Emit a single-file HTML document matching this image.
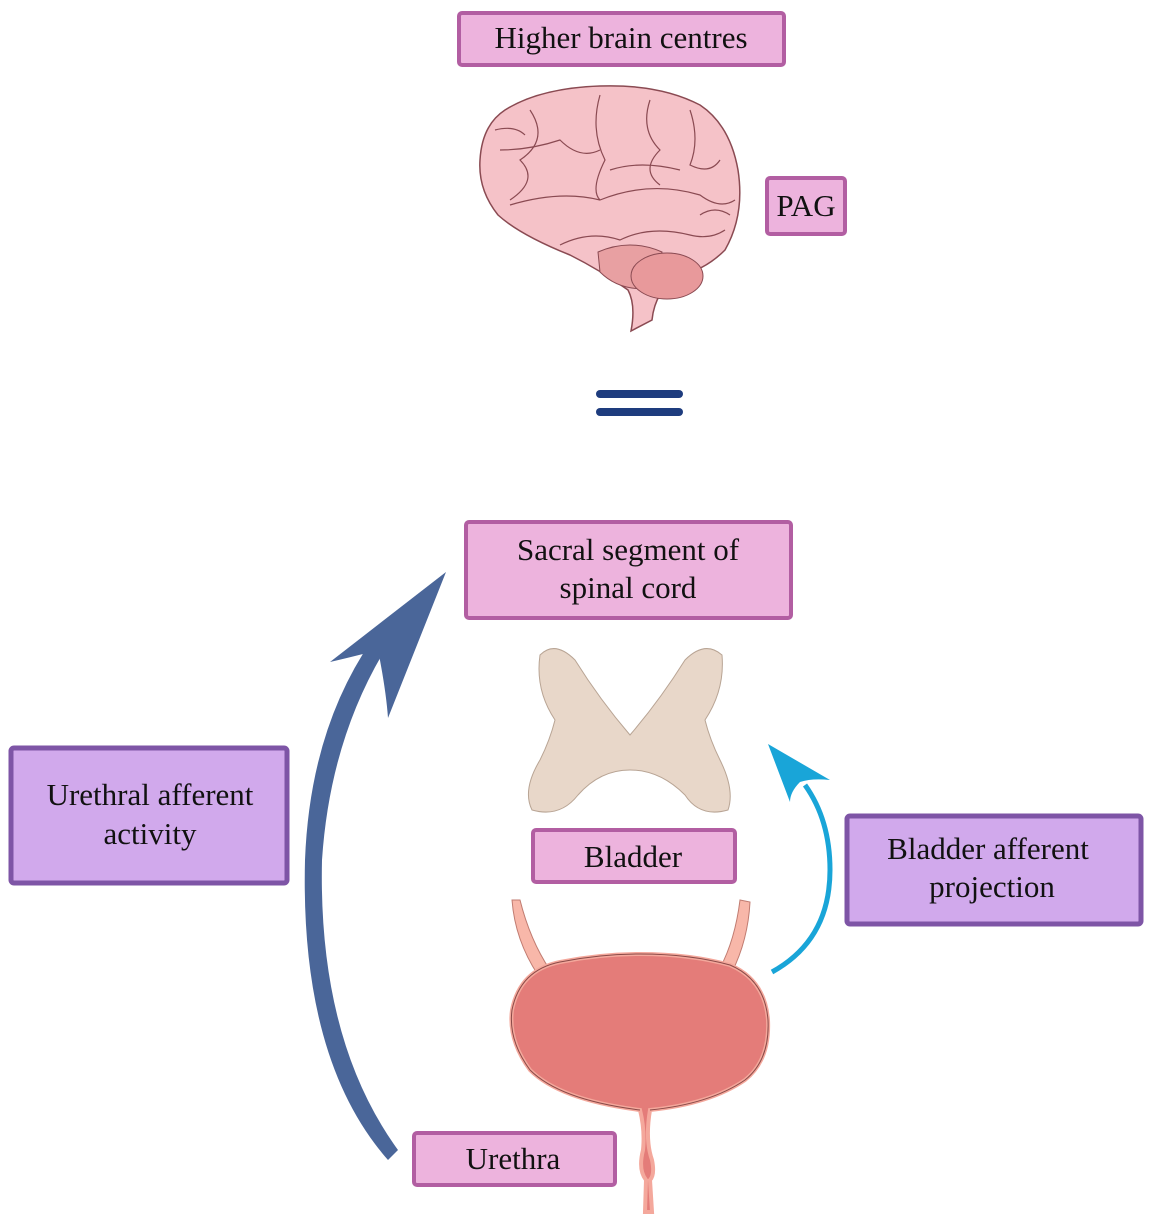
<!DOCTYPE html>
<html><head><meta charset="utf-8"><style>
html,body{margin:0;padding:0;background:#fff;}
svg{display:block;}
text{font-family:"Liberation Serif",serif;fill:#111;}
</style></head><body>
<svg width="1155" height="1221" viewBox="0 0 1155 1221" xmlns="http://www.w3.org/2000/svg">
<g stroke="#b25ea2" stroke-width="4" fill="#edb3dd">
<rect x="459" y="13" width="325" height="52" rx="3"/>
<rect x="767" y="178" width="78" height="56" rx="3"/>
<rect x="466" y="522" width="325" height="96" rx="3"/>
<rect x="533" y="830" width="202" height="52" rx="3"/>
<rect x="414" y="1133" width="201" height="52" rx="3"/>
</g>
<g stroke="#7e55a6" stroke-width="5" fill="#d1a9ec">
<rect x="11" y="748" width="276" height="135" rx="3"/>
<rect x="847" y="816" width="294" height="108" rx="3"/>
</g>
<g font-size="31" text-anchor="middle">
<text x="621" y="48">Higher brain centres</text>
<text x="806" y="216">PAG</text>
<text x="628" y="560">Sacral segment of</text>
<text x="628" y="598">spinal cord</text>
<text x="633" y="867">Bladder</text>
<text x="513" y="1169">Urethra</text>
<text x="150" y="805">Urethral afferent</text>
<text x="150" y="844">activity</text>
<text x="988" y="859">Bladder afferent</text>
<text x="992" y="897">projection</text>
</g>
<!-- brain -->
<path d="M631 331 Q636 305 628 290 Q600 270 570 255 Q520 235 498 215 Q478 190 480 160 Q482 125 505 110 Q540 88 600 86 Q660 84 700 105 Q730 125 738 170 Q745 215 725 250 Q705 270 680 275 Q655 290 652 320 Z" fill="#f5c2c8" stroke="#8a4a52" stroke-width="1.5"/>
<path d="M598 252 Q630 238 662 252 L652 288 Q620 292 600 272 Z" fill="#e8a0a2" stroke="#8a4a52" stroke-width="1"/>
<ellipse cx="667" cy="276" rx="36" ry="23" fill="#e8999b" stroke="#8a4a52" stroke-width="1"/>
<g fill="none" stroke="#8a4a52" stroke-width="1.2">
<path d="M510 205 Q560 190 600 200 Q650 180 700 195 Q720 210 735 200"/>
<path d="M560 245 Q590 230 620 240 Q650 225 690 235 Q710 240 725 230"/>
<path d="M600 95 Q590 130 605 160 Q590 190 600 200"/>
<path d="M530 110 Q550 140 520 160 Q540 180 510 200"/>
<path d="M650 100 Q640 130 660 150 Q640 170 660 185"/>
<path d="M690 110 Q700 140 690 165 Q710 175 720 160"/>
<path d="M500 150 Q530 150 560 140 Q580 160 600 150"/>
<path d="M610 170 Q640 160 680 170"/>
<path d="M495 130 Q515 125 525 135"/>
<path d="M700 215 Q715 205 730 215"/>
</g>
<g stroke="#1e3c7e" stroke-width="8" stroke-linecap="round">
<line x1="600" y1="394" x2="679" y2="394"/>
<line x1="600" y1="412" x2="679" y2="412"/>
</g>
<!-- spinal cord -->
<path d="M540 655 Q555 640 575 660 Q600 700 630 735 Q660 700 685 660 Q705 640 722 655 Q725 690 705 720 Q710 740 720 760 Q735 790 728 810 Q700 818 685 795 Q660 770 630 770 Q600 770 578 795 Q560 818 532 810 Q522 790 540 760 Q550 740 555 720 Q535 690 540 655 Z" fill="#e8d7c9" stroke="#b8a494" stroke-width="1"/>
<path d="M388 1160 Q300 1060 305 860 Q310 730 372 640 L386 648 Q330 740 322 860 Q318 1040 398 1150 Z" fill="#4a6699"/>
<path d="M446 572 L330 662 Q360 655 378 650 Q386 690 388 718 Z" fill="#4a6699"/>
<path d="M772 972 Q830 940 830 870 Q830 820 805 785" fill="none" stroke="#19a5d8" stroke-width="5"/>
<path d="M768 744 L830 780 Q812 778 800 782 Q790 792 790 802 Z" fill="#19a5d8"/>
<!-- bladder -->
<path d="M520 900 Q530 940 550 970 L538 975 Q515 940 512 900 Z" fill="#f8b7a9" stroke="#c07b70" stroke-width="1"/>
<path d="M740 900 Q735 940 720 968 L732 972 Q748 940 750 902 Z" fill="#f8b7a9" stroke="#c07b70" stroke-width="1"/>
<path d="M640 1110 Q560 1100 530 1070 Q508 1040 512 1010 Q520 970 560 962 Q600 954 640 954 Q690 954 730 965 Q765 980 768 1020 Q770 1060 745 1080 Q710 1104 650 1110 Q645 1140 652 1160 Q655 1175 650 1180 L652 1212 L645 1212 L646 1180 Q638 1170 643 1150 Q645 1130 640 1110 Z" fill="#e47c79" stroke="#f4a89c" stroke-width="4"/>
<path d="M640 1110 Q560 1100 530 1070 Q508 1040 512 1010 Q520 970 560 962 Q600 954 640 954 Q690 954 730 965 Q765 980 768 1020 Q770 1060 745 1080 Q710 1104 650 1110" fill="none" stroke="#8a4a48" stroke-width="1"/>
</svg>
</body></html>
